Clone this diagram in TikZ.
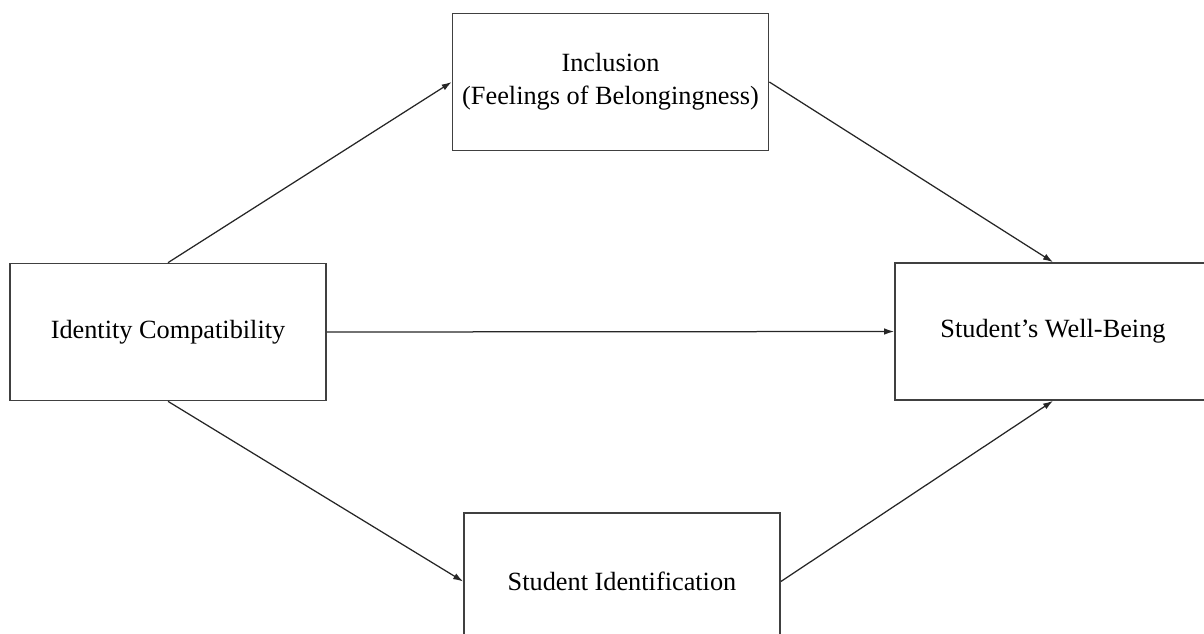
\documentclass[tikz,border=0pt]{standalone}
\usepackage{fontspec}
\setmainfont{Liberation Serif}
\usetikzlibrary{arrows.meta}
\begin{document}
\begin{tikzpicture}
          [x=1pt,y=1pt,>={Latex[length=10pt,width=6.5pt]},every node/.style={draw=black!75, rectangle, line width=1.7pt, minimum width=316pt, minimum height=137pt, inner sep=0pt, align=center, font=\fontsize{26.3}{33}\selectfont}]
        \useasboundingbox (0,0) rectangle (1204,-634);

        \node (incl) at (610.5,-82) {Inclusion\\(Feelings of Belongingness)};
        \node (ident) at (168,-332) {Identity Compatibility};
        \node (wellb) at (1053,-331.5) {Student’s Well-Being};
        \node (studid) at (622,-581.5) {Student Identification};

        \foreach \from/\to in {ident.north/incl.west, incl.east/wellb.north, ident.east/wellb.west, ident.south/studid.west, studid.east/wellb.south}
          \draw[line width=1.25pt, black!85] (\from) edge[->] (\to);
      \end{tikzpicture}
\end{document}
